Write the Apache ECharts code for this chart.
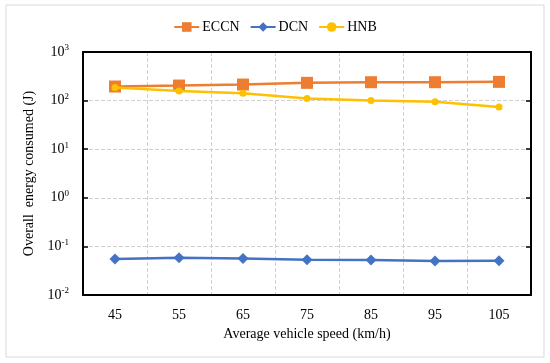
<!DOCTYPE html>
<html>
<head>
<meta charset="utf-8">
<script src="https://cdn.jsdelivr.net/npm/echarts@6/dist/echarts.min.js"></script>
<style>html,body{margin:0;padding:0;background:#fff}#c{width:550px;height:363px}</style>
</head>
<body>
<div id="c"></div>
<script>
const categories = ['45', '55', '65', '75', '85', '95', '105'];
const eccn = [195, 204, 214, 232, 239, 239, 243];
const dcn = [0.055, 0.0585, 0.0567, 0.0532, 0.0525, 0.050, 0.0507];
const hnb = [186, 157, 141, 110, 100, 95, 74];
const yTicks = [0.01, 0.1, 1, 10, 100, 1000];

const FONT = '"Liberation Serif", "Times New Roman", serif';
const chart = echarts.init(document.getElementById('c'));
const expFmt = v => {
  const e = Math.round(Math.log10(v));
  return '{b|10}{s|' + e + '}';
};
chart.setOption({
  animation: false,
  backgroundColor: '#fff',
  textStyle: { fontFamily: FONT },
  graphic: [{
    type: 'rect', shape: { x: 6, y: 5, width: 538, height: 352 },
    style: { fill: 'none', stroke: '#d9d9d9', lineWidth: 1 }, silent: true
  }],
  legend: {
    top: 15, left: 'center', itemGap: 10, itemWidth: 25, itemHeight: 12,
    textStyle: { fontFamily: FONT, fontSize: 14, color: '#000', padding: [0, 0, 0, -2] },
    data: ['ECCN', 'DCN', 'HNB']
  },
  grid: { left: 83, right: 19, top: 52, bottom: 68 },
  xAxis: [{
    type: 'category', data: categories, boundaryGap: true,
    name: 'Average vehicle speed (km/h)', nameLocation: 'middle', nameGap: 30,
    nameTextStyle: { fontFamily: FONT, fontSize: 14, color: '#000' },
    axisLine: { lineStyle: { color: '#000', width: 2 } },
    axisTick: { inside: true, length: 5, lineStyle: { color: '#000', width: 1.5 } },
    axisLabel: { fontFamily: FONT, fontSize: 14, color: '#000', margin: 13 },
    splitLine: { show: true, lineStyle: { color: '#d0d0d0', type: 'dashed' } }
  }, {
    type: 'category', data: categories, boundaryGap: true, position: 'top',
    axisLine: { lineStyle: { color: '#000', width: 2 } },
    axisTick: { inside: true, length: 5, lineStyle: { color: '#000', width: 1.5 } },
    axisLabel: { show: false }, splitLine: { show: false }
  }],
  yAxis: [{
    type: 'log', logBase: 10, min: 0.01, max: 1000,
    name: 'Overall  energy consumed (J)', nameLocation: 'middle', nameGap: 43,
    nameTextStyle: { fontFamily: FONT, fontSize: 14, color: '#000' },
    axisLine: { show: true, lineStyle: { color: '#000', width: 2 } },
    axisTick: { show: true, inside: true, length: 5, lineStyle: { color: '#000', width: 1.5 } },
    minorTick: { show: false },
    axisLabel: {
      formatter: expFmt, margin: 14,
      rich: {
        b: { fontFamily: FONT, fontSize: 14, color: '#000' },
        s: { fontFamily: FONT, fontSize: 9, color: '#000', verticalAlign: 'top', padding: [0, 0, 8, 0] }
      }
    },
    splitLine: { show: true, lineStyle: { color: '#d0d0d0', type: 'dashed' } }
  }, {
    type: 'log', logBase: 10, min: 0.01, max: 1000, position: 'right',
    axisLine: { show: true, lineStyle: { color: '#000', width: 2 } },
    axisTick: { show: true, inside: true, length: 5, lineStyle: { color: '#000', width: 1.5 } },
    axisLabel: { show: false }, splitLine: { show: false }
  }],
  series: [{
    name: 'ECCN', type: 'line', data: eccn, symbol: 'rect', symbolSize: 12,
    itemStyle: { color: '#ED7D31' }, lineStyle: { color: '#ED7D31', width: 2.5 }, z: 3
  }, {
    name: 'DCN', type: 'line', data: dcn, symbol: 'diamond', symbolSize: 11,
    itemStyle: { color: '#4472C4' }, lineStyle: { color: '#4472C4', width: 2.5 }, z: 3
  }, {
    name: 'HNB', type: 'line', data: hnb, symbol: 'circle', symbolSize: 7,
    itemStyle: { color: '#FFC000' }, lineStyle: { color: '#FFC000', width: 2.5 }, z: 4
  }]
});
</script>
</body>
</html>
